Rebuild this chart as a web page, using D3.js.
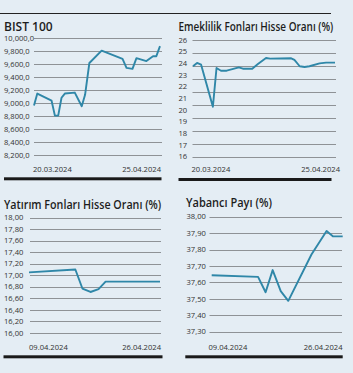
<!DOCTYPE html>
<html><head><meta charset="utf-8">
<script src="https://cdn.jsdelivr.net/npm/d3@7"></script>
<style>
html,body{margin:0;padding:0;background:#e4edf4;}
svg{display:block;}
text{font-family:"Open Sans","Noto Sans",sans-serif;}
</style></head>
<body>
<svg id="c" width="353" height="373"></svg>
<script>
// ---------- DATA ----------
const bistTitle = "BIST 100";
const bistTicks = [10000, 9800, 9600, 9400, 9200, 9000, 8800, 8600, 8400, 8200];
const bistTickLabels = ["10,000,0","9,800,0","9,600,0","9,400,0","9,200,0","9,000,0","8,800,0","8,600,0","8,400,0","8,200,0"];
const bistDates = ["20.03.2024", "25.04.2024"];
const bistX = [0, 1, 5.3, 6.3, 7.3, 8.3, 9.3, 12.3, 14.4, 15.4, 16.7, 20.4, 26.7, 27.9, 29.7, 30.9, 33.9, 35.9, 36.9, 38];
const bistY = [8965, 9150, 9040, 8810, 8810, 9085, 9150, 9165, 8955, 9130, 9620, 9810, 9685, 9545, 9530, 9695, 9650, 9725, 9725, 9880];

const emekTitle = "Emeklilik Fonları Hisse Oranı (%)";
const emekTicks = [26, 25, 24, 23, 22, 21, 20, 19, 18, 17, 16];
const emekTickLabels = ["26","25","24","23","22","21","20","19","18","17","16"];
const emekGridCount = 10;
const emekDates = ["20.03.2024", "25.04.2024"];
const emekX = [0, 1, 2, 4.9, 5.8, 6.9, 8.3, 11.3, 12.3, 14.6, 16, 18, 19, 24.2, 25, 26.3, 27.5, 28.7, 31.2, 32.8, 35];
const emekY = [23.75, 24.03, 23.88, 20.28, 23.6, 23.37, 23.37, 23.66, 23.54, 23.54, 23.94, 24.46, 24.4, 24.43, 24.29, 23.75, 23.69, 23.75, 24.0, 24.06, 24.06];

const yatTitle = "Yatırım Fonları Hisse Oranı (%)";
const yatTicks = [18, 17.8, 17.6, 17.4, 17.2, 17, 16.8, 16.6, 16.4, 16.2, 16];
const yatTickLabels = ["18,00","17,80","17,60","17,40","17,20","17,00","16,80","16,60","16,40","16,20","16,00"];
const yatDates = ["09.04.2024", "26.04.2024"];
const yatX = [0, 4.6, 5.3, 6.1, 6.9, 7.6, 13];
const yatY = [17.05, 17.1, 16.77, 16.71, 16.76, 16.89, 16.89];

const yabTitle = "Yabancı Payı (%)";
const yabTicks = [38.0, 37.9, 37.8, 37.7, 37.6, 37.5, 37.4, 37.3];
const yabTickLabels = ["38,00","37,90","37,80","37,70","37,60","37,50","37,40","37,30"];
const yabDates = ["09.04.2024", "26.04.2024"];
const yabX = [0, 4.6, 5.35, 6.05, 6.85, 7.6, 9.9, 11.4, 12.05, 13];
const yabY = [37.644, 37.634, 37.54, 37.675, 37.547, 37.488, 37.77, 37.913, 37.88, 37.88];

// ---------- DRAW ----------
const svg = d3.select("#c");
const LINE = "#2f87a8", GRID = "#8e9296", TXT = "#333";

svg.append("rect").attr("width",353).attr("height",373).attr("fill","#e4edf4");
// top rule
svg.append("line").attr("x1",0).attr("x2",331).attr("y1",13.5).attr("y2",13.5)
  .attr("stroke","#222").attr("stroke-width",1.2);

function panel(o){
  const g = svg.append("g");
  const x = d3.scaleLinear().domain(o.xDomain).range(o.xRange);
  const y = d3.scaleLinear().domain(o.yDomain).range(o.yRange);
  // title (horizontally condensed to the reference width)
  const tg = g.append("g");
  const tt = tg.append("text").attr("x",0).attr("y",0).text(o.title)
    .attr("font-size",12).attr("font-weight",600).attr("fill","#1d1d1d");
  const nat = tt.node().getComputedTextLength();
  const sx = Math.min(1, o.titleW / nat);
  tg.attr("transform",`translate(${o.titleX},${o.titleY}) scale(${sx},1)`);
  // gridlines
  const gridVals = o.gridVals || o.ticks;
  const gy = o.gridScale || y;
  g.selectAll(".g").data(gridVals).enter().append("line")
    .attr("x1",o.gridX[0]).attr("x2",o.gridX[1])
    .attr("y1",d=>Math.round(gy(d))+0.5).attr("y2",d=>Math.round(gy(d))+0.5)
    .attr("stroke",GRID).attr("stroke-width",1);
  // tick labels
  g.selectAll(".t").data(o.ticks).enter().append("text")
    .attr("x",o.labelX).attr("y",d=>y(d)).attr("dy","0.35em")
    .attr("font-size",7.6).attr("fill",TXT).text((d,i)=>o.tickLabels[i]);
  // date labels
  g.append("text").attr("x",o.gridX[0]-1).attr("y",o.dateY).attr("font-size",7.6).attr("fill",TXT).text(o.dates[0]);
  g.append("text").attr("x",o.dateEnd).attr("y",o.dateY).attr("font-size",7.6).attr("fill",TXT)
    .attr("text-anchor","end").text(o.dates[1]);
  // line
  const pts = o.xs.map((v,i)=>[v,o.ys[i]]);
  g.append("path").datum(pts)
    .attr("d",d3.line().x(d=>x(d[0])).y(d=>y(d[1])))
    .attr("fill","none").attr("stroke",LINE).attr("stroke-width",1.9)
    .attr("stroke-linejoin","round");
  // bottom bar
  g.append("rect").attr("x",o.barX[0]).attr("width",o.barX[1]-o.barX[0])
    .attr("y",o.barY).attr("height",3).attr("fill","#1a1a1a");
}

panel({title:bistTitle,titleX:4,titleY:30.5,titleW:49,
  ticks:bistTicks,tickLabels:bistTickLabels,dates:bistDates,
  xDomain:[0,38],xRange:[34,160],yDomain:[8200,10000],yRange:[155.3,38.3],
  gridX:[34,162],labelX:4,dateY:172,dateEnd:161,xs:bistX,ys:bistY,
  barX:[4,161.5],barY:177.3});

const emekGrid = d3.scaleLinear().domain([0,emekGridCount-1]).range([40,157]);
panel({title:emekTitle,titleX:178.5,titleY:31,titleW:155,
  ticks:emekTicks,tickLabels:emekTickLabels,dates:emekDates,
  gridVals:d3.range(emekGridCount),gridScale:emekGrid,
  xDomain:[0,35],xRange:[193,335],yDomain:[16,26],yRange:[156.7,40],
  gridX:[192.5,336],labelX:178.5,dateY:172,dateEnd:340,xs:emekX,ys:emekY,
  barX:[178.5,331.5],barY:178});

panel({title:yatTitle,titleX:4,titleY:209,titleW:157.5,
  ticks:yatTicks,tickLabels:yatTickLabels,dates:yatDates,
  xDomain:[0,13],xRange:[29,160],yDomain:[16,18],yRange:[333,217.5],
  gridX:[30,161],labelX:4,dateY:350,dateEnd:161,xs:yatX,ys:yatY,
  barX:[3.5,162.5],barY:355.3});

panel({title:yabTitle,titleX:186,titleY:207,titleW:86,
  ticks:yabTicks,tickLabels:yabTickLabels,dates:yabDates,
  xDomain:[0,13],xRange:[211.7,342.7],yDomain:[37.3,38.0],yRange:[331.7,216.7],
  gridX:[209.5,342],labelX:186.5,dateY:350,dateEnd:342.5,xs:yabX,ys:yabY,
  barX:[185.3,342.7],barY:355.3});
</script>
</body></html>
